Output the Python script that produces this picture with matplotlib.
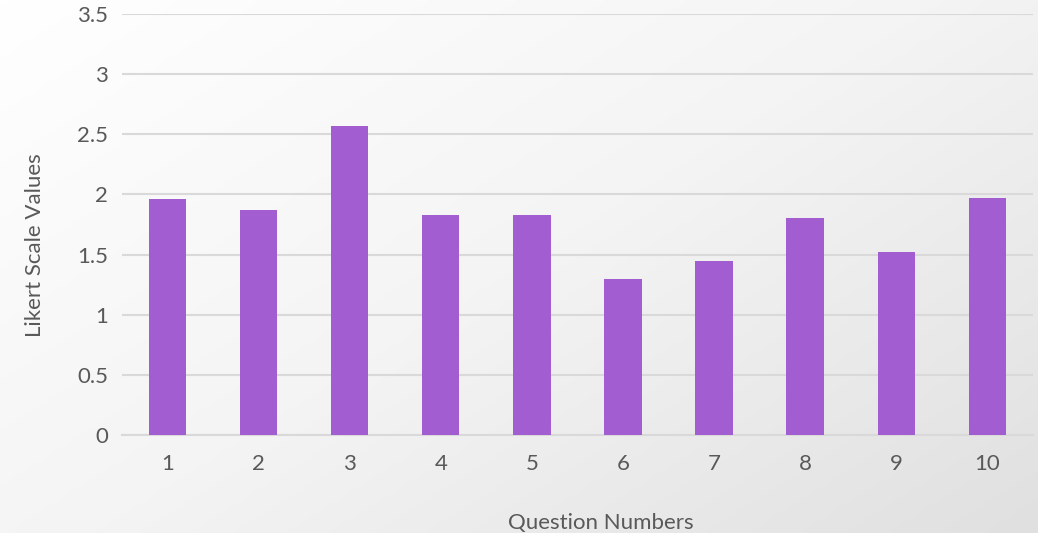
import numpy as np
import matplotlib
matplotlib.use("Agg")
import matplotlib.pyplot as plt

# Chart data
questions = ["1", "2", "3", "4", "5", "6", "7", "8", "9", "10"]
likert_values = [1.96, 1.87, 2.57, 1.83, 1.83, 1.30, 1.45, 1.80, 1.52, 1.97]
y_ticks = [0, 0.5, 1, 1.5, 2, 2.5, 3, 3.5]
y_tick_labels = ["0", "0.5", "1", "1.5", "2", "2.5", "3", "3.5"]

BAR_COLOR = "#A25DD1"
GRID_COLOR = "#D9D9D9"
TEXT_COLOR = "#595959"

plt.rcParams["font.family"] = ["Lato", "DejaVu Sans"]

fig = plt.figure(figsize=(10.38, 5.33), dpi=100)

# Soft diagonal background gradient (white top-left to light gray bottom-right)
bg = fig.add_axes([0, 0, 1, 1], zorder=0)
gx, gy = np.meshgrid(np.linspace(0, 1, 300), np.linspace(0, 1, 160))
grad = 0.55 * gx + 0.45 * gy
bg.imshow(grad, cmap=matplotlib.colors.LinearSegmentedColormap.from_list(
    "bg", ["#FFFFFF", "#F4F4F4", "#E0E0E0"]), aspect="auto", extent=[0, 1, 0, 1],
    origin="upper", interpolation="bilinear")
bg.set_axis_off()

ax = fig.add_axes([0.1175, 0.1839, 0.8775, 0.7898], zorder=1)
ax.patch.set_alpha(0)

x = np.arange(1, len(questions) + 1)
ax.bar(x, likert_values, width=0.41, color=BAR_COLOR, zorder=3)

ax.set_xlim(0.5, len(questions) + 0.5)
ax.set_ylim(0, 3.5)
ax.set_yticks(y_ticks)
ax.set_yticklabels(y_tick_labels)
ax.set_xticks(x)
ax.set_xticklabels(questions)

ax.grid(axis="y", color=GRID_COLOR, linewidth=1.5, zorder=0)
for s in ["top", "right", "left"]:
    ax.spines[s].set_visible(False)
ax.spines["bottom"].set_color(GRID_COLOR)
ax.spines["bottom"].set_linewidth(1.5)

ax.tick_params(axis="both", length=0, labelsize=16, colors=TEXT_COLOR)
ax.tick_params(axis="y", pad=10)
ax.tick_params(axis="x", pad=14)

ax.set_xlabel("Question Numbers", fontsize=16, color=TEXT_COLOR)
ax.set_ylabel("Likert Scale Values", fontsize=16, color=TEXT_COLOR)
ax.xaxis.set_label_coords(0.526, -0.185)
ax.yaxis.set_label_coords(-0.085, 0.451)

fig.savefig("out.png", dpi=100)
